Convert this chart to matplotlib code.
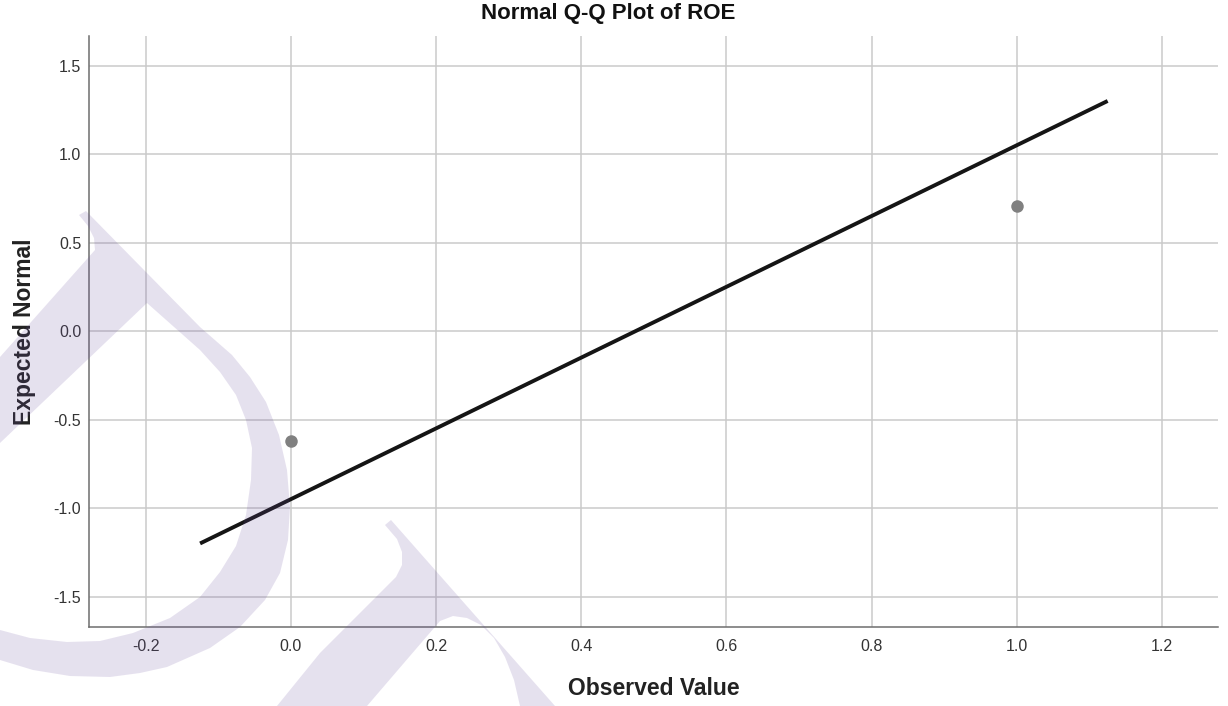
import numpy as np
import matplotlib
matplotlib.use("Agg")
import matplotlib.pyplot as plt
from matplotlib.patches import Polygon

# Q-Q data
observed = [0.0, 1.0]
expected = [-0.62, 0.705]

# reference line end points
line_x = [-0.125, 1.125]
line_y = [-1.20, 1.30]

x_ticks = [-0.2, 0.0, 0.2, 0.4, 0.6, 0.8, 1.0, 1.2]
y_ticks = [-1.5, -1.0, -0.5, 0.0, 0.5, 1.0, 1.5]

title = "Normal Q-Q Plot of ROE"
x_label = "Observed Value"
y_label = "Expected Normal"

# watermark outlines, figure pixels (origin top-left)
mark_a = [(0, 660), (33, 670), (70, 676), (110, 677), (140, 673), (167, 667),
          (210, 648), (240, 627), (265, 600), (280, 573), (288, 540), (290, 507),
          (287, 470), (279, 435), (266, 402), (250, 377), (232, 355), (200, 327),
          (86, 211), (79, 215), (88, 226), (94, 238), (95, 250), (0, 357),
          (0, 443), (147, 303), (200, 350), (220, 372), (236, 395), (246, 420),
          (252, 448), (251, 480), (246, 515), (236, 546), (220, 572), (200, 597),
          (170, 618), (133, 633), (100, 641), (67, 642), (30, 638), (0, 630)]
mark_b = [(385, 525), (391, 520), (555, 706), (520, 706), (514, 680), (505, 657),
          (494, 638), (481, 625), (467, 618), (453, 616), (440, 621), (367, 706),
          (277, 706), (320, 653), (370, 603), (396, 577), (402, 565), (402, 552),
          (397, 539)]

W, H = 1228, 706
plt.rcParams['font.family'] = ['Liberation Sans', 'DejaVu Sans']

fig = plt.figure(figsize=(W / 100, H / 100), dpi=100)
ax = fig.add_axes([89 / W, 1 - 627 / H, (1218 - 89) / W, (627 - 36) / H])

ax.plot(line_x, line_y, color="#151515", lw=2.8, solid_capstyle="butt", zorder=3)
ax.plot(observed, expected, "o", color="#808080", ms=9, mec="none", zorder=4)

ax.set_xlim(-0.278, 1.277)
ax.set_ylim(-1.672, 1.667)
ax.set_xticks(x_ticks)
ax.set_yticks(y_ticks)
ax.set_xticklabels([f"{v:.1f}" for v in x_ticks])
ax.set_yticklabels([f"{v:.1f}" for v in y_ticks])
ax.tick_params(length=0, labelsize=11.5, labelcolor="#333333")
ax.tick_params(axis="x", pad=8.5)
ax.tick_params(axis="y", pad=5.5)
ax.grid(True, color="#cacaca", lw=1.1)
ax.set_axisbelow(True)

for side in ["top", "right"]:
    ax.spines[side].set_visible(False)
for side in ["left", "bottom"]:
    ax.spines[side].set_color("#6e6e6e")
    ax.spines[side].set_linewidth(1.1)

ax.set_xlabel(x_label, fontsize=16.5, fontweight="bold", color="#222222", labelpad=17)
ax.set_ylabel(y_label, fontsize=16.5, fontweight="bold", color="#222222", labelpad=13)
fig.suptitle(title, x=608 / W, y=1 - 3 / H, va="top", fontsize=16, fontweight="bold",
             color="#111111")

# faint lavender watermark drawn over the plot
for pts in [mark_a, mark_b]:
    arr = np.array(pts, dtype=float)
    arr[:, 0] = arr[:, 0] / W
    arr[:, 1] = 1 - arr[:, 1] / H
    fig.add_artist(Polygon(arr, closed=True, transform=fig.transFigure,
                           facecolor="#6a4da0", alpha=0.168, edgecolor="none",
                           zorder=10))

fig.savefig("out.png", dpi=100)
